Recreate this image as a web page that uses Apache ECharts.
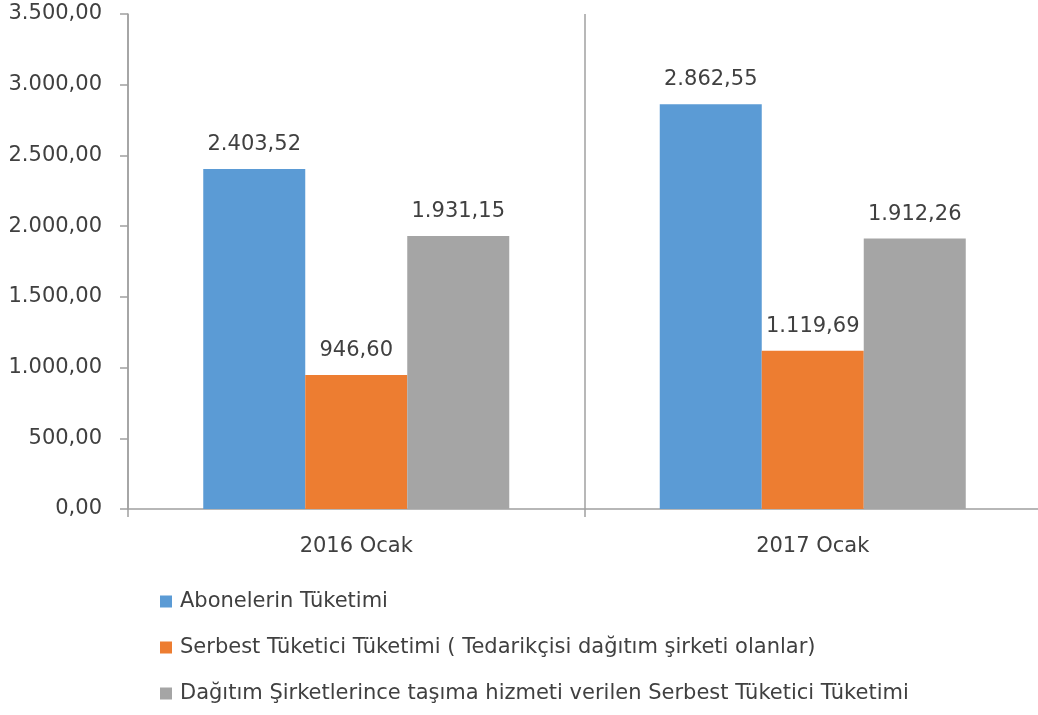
<!DOCTYPE html>
<html>
<head>
<meta charset="utf-8">
<script src="https://cdn.jsdelivr.net/npm/echarts@6/dist/echarts.min.js"></script>
<style>
  html, body { margin: 0; padding: 0; background: #fff; overflow: hidden; }
  #chart { width: 1041px; height: 715px; }
</style>
</head>
<body>
<div id="chart"></div>
<script>
// kategoriler ve seriler
const categories = ['2016 Ocak', '2017 Ocak'];
const seriesNames = [
  'Abonelerin Tüketimi',
  'Serbest Tüketici Tüketimi ( Tedarikçisi dağıtım şirketi olanlar)',
  'Dağıtım Şirketlerince taşıma hizmeti verilen Serbest Tüketici Tüketimi'
];
const abone = [2403.52, 2862.55];
const serbest = [946.60, 1119.69];
const dagitim = [1931.15, 1912.26];
const colors = ['#5B9BD5', '#ED7D31', '#A5A5A5'];

// 1234.5 -> "1.234,50"
function trFormat(v) {
  const parts = Number(v).toFixed(2).split('.');
  parts[0] = parts[0].replace(/\B(?=(\d{3})+(?!\d))/g, '.');
  return parts[0] + ',' + parts[1];
}

const font = 'DejaVu Sans';
const textColor = '#404040';
const axisColor = '#A0A0A0';

function bar(name, data, color) {
  return {
    name: name,
    type: 'bar',
    data: data,
    barWidth: 102,
    barGap: '0%',
    itemStyle: { color: color },
    label: {
      show: true,
      position: 'top',
      distance: 14,
      color: textColor,
      fontFamily: font,
      fontSize: 21,
      formatter: p => trFormat(p.value)
    }
  };
}

const chart = echarts.init(document.getElementById('chart'));
chart.setOption({
  backgroundColor: '#fff',
  animation: false,
  // son ayırıcı çizgi pencerenin dışında kalsın diye div 1041px
  grid: { left: 128, right: 0, top: 14, bottom: 206 },
  legend: {
    orient: 'vertical',
    left: 155,
    top: 586,
    itemWidth: 12,
    itemHeight: 12,
    itemGap: 25,
    icon: 'rect',
    textStyle: { color: textColor, fontFamily: font, fontSize: 21, padding: [0, 0, 0, 3] },
    data: seriesNames
  },
  xAxis: {
    type: 'category',
    data: categories,
    axisLine: { lineStyle: { color: axisColor, width: 1.5 } },
    axisTick: { show: true, length: 8, lineStyle: { color: axisColor, width: 1.5 } },
    splitLine: { show: true, lineStyle: { color: axisColor, width: 1.5 } },
    axisLabel: { color: textColor, fontFamily: font, fontSize: 21, margin: 27 }
  },
  yAxis: {
    type: 'value',
    min: 0,
    max: 3500,
    interval: 500,
    axisLine: { show: true, lineStyle: { color: axisColor, width: 1.5 } },
    axisTick: { show: true, length: 8, lineStyle: { color: axisColor, width: 1.5 } },
    splitLine: { show: false },
    axisLabel: {
      color: textColor, fontFamily: font, fontSize: 21, margin: 26,
      formatter: v => trFormat(v)
    }
  },
  series: [
    bar(seriesNames[0], abone, colors[0]),
    bar(seriesNames[1], serbest, colors[1]),
    bar(seriesNames[2], dagitim, colors[2])
  ]
});
</script>
</body>
</html>
